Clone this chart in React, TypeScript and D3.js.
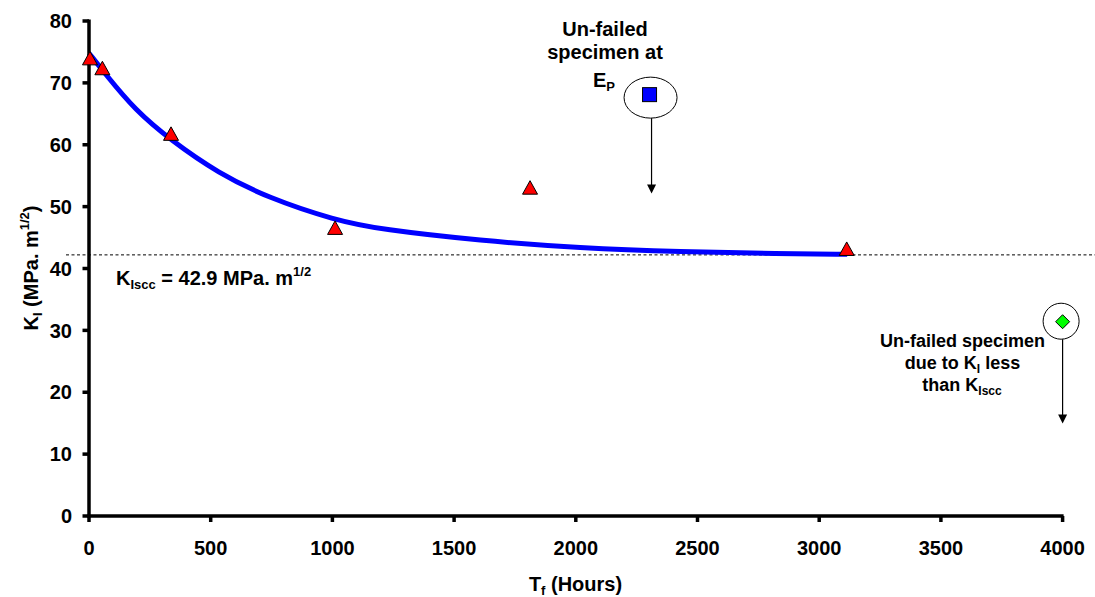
import React from "react";
import * as d3 from "d3";

// ---- data ----
const xTicks = [0, 500, 1000, 1500, 2000, 2500, 3000, 3500, 4000];
const yTicks = [0, 10, 20, 30, 40, 50, 60, 70, 80];

// failed specimens (triangles)
const failedT = [4, 55, 337, 1011, 1812, 3113];
const failedK = [73.8, 72.2, 61.6, 46.4, 52.9, 43.0];

// fitted curve
const fitT = [0, 66, 189, 337, 531, 737, 1011, 1200, 1607, 2018, 2430, 2841, 3115];
const fitK = [74.8, 71.5, 65.6, 60.7, 55.4, 51.4, 47.8, 46.3, 44.5, 43.3, 42.7, 42.4, 42.3];

// un-failed specimens
const unfailedEpT = [2303];
const unfailedEpK = [68.1];
const unfailedLowT = [4000];
const unfailedLowK = [31.4];

// threshold line
const kIsccLine = 42.2;

const FONT = "Arial, 'Liberation Sans', Helvetica, sans-serif";

export default function App() {
  const W = 1095;
  const H = 597;
  const x = d3.scaleLinear().domain([0, 4000]).range([89, 1062.6]);
  const y = d3.scaleLinear().domain([0, 80]).range([516, 21]);

  const fitData = fitT.map((t, i) => [t, fitK[i]] as [number, number]);
  const line = d3
    .line<[number, number]>()
    .x((d) => x(d[0]))
    .y((d) => y(d[1]))
    .curve(d3.curveBasis);

  const epX = x(unfailedEpT[0]);
  const epY = y(unfailedEpK[0]);
  const ellCx = epX + 1;
  const ellCy = epY + 3;
  const ellRx = 26.5;
  const ellRy = 20.5;

  const lowX = x(unfailedLowT[0]);
  const lowY = y(unfailedLowK[0]);
  const circR = 18;

  const arrow = (ax: number, y1: number, y2: number) => (
    <g>
      <line x1={ax} y1={y1} x2={ax} y2={y2 - 8} stroke="#000" strokeWidth={1.2} />
      <polygon points={`${ax - 4.5},${y2 - 9} ${ax + 4.5},${y2 - 9} ${ax},${y2}`} fill="#000" />
    </g>
  );

  return (
    <svg
      width={W}
      height={H}
      style={{ position: "absolute", left: 0, top: 0, background: "#fff" }}
      fontFamily={FONT}
    >
      {/* dashed threshold line */}
      <line
        x1={66}
        x2={W}
        y1={y(kIsccLine)}
        y2={y(kIsccLine)}
        stroke="#000"
        strokeWidth={1}
        strokeDasharray="3,2.5"
      />

      {/* fitted curve */}
      <path d={line(fitData) || ""} fill="none" stroke="#0000ff" strokeWidth={5} />

      {/* axes */}
      <line x1={89} x2={89} y1={y(80) - 1.5} y2={y(0) + 1.5} stroke="#000" strokeWidth={3.5} />
      <line x1={87.5} x2={x(4000) + 1} y1={y(0)} y2={y(0)} stroke="#000" strokeWidth={3.5} />
      {yTicks.map((t) => (
        <g key={"y" + t}>
          <line x1={82.5} x2={89} y1={y(t)} y2={y(t)} stroke="#000" strokeWidth={3.5} />
          <text
            x={72}
            y={y(t)}
            dy="0.36em"
            textAnchor="end"
            fontSize={20}
            fontWeight="bold"
          >
            {t}
          </text>
        </g>
      ))}
      {xTicks.map((t) => (
        <g key={"x" + t}>
          <line x1={x(t)} x2={x(t)} y1={y(0)} y2={y(0) + 6} stroke="#000" strokeWidth={3.5} />
          <text x={x(t)} y={555} textAnchor="middle" fontSize={20} fontWeight="bold">
            {t}
          </text>
        </g>
      ))}

      {/* axis titles */}
      <text x={575.5} y={590.5} textAnchor="middle" fontSize={20} fontWeight="bold">
        T<tspan fontSize={13} dy={4}>f</tspan>
        <tspan dy={-4}> (Hours)</tspan>
      </text>
      <text
        transform="translate(37.5,268) rotate(-90)"
        textAnchor="middle"
        fontSize={20}
        fontWeight="bold"
      >
        K<tspan fontSize={13} dy={4}>I</tspan>
        <tspan dy={-4}> (MPa. m</tspan>
        <tspan fontSize={13} dy={-9}>1/2</tspan>
        <tspan dy={9}>)</tspan>
      </text>

      {/* failed specimens */}
      {failedT.map((t, i) => {
        const cx = x(t);
        const cy = y(failedK[i]);
        return (
          <path
            key={"tri" + i}
            d={`M${cx},${cy - 8} L${cx + 7.5},${cy + 5.5} L${cx - 7.5},${cy + 5.5} Z`}
            fill="#ff0000"
            stroke="#000"
            strokeWidth={1}
          />
        );
      })}

      {/* K_Iscc label */}
      <text x={116} y={285} fontSize={20} fontWeight="bold">
        K<tspan fontSize={13} dy={4}>Iscc</tspan>
        <tspan dy={-4}> = 42.9 MPa. m</tspan>
        <tspan fontSize={13} dy={-9}>1/2</tspan>
      </text>

      {/* un-failed at E_P */}
      <ellipse cx={ellCx} cy={ellCy} rx={ellRx} ry={ellRy} fill="none" stroke="#000" strokeWidth={1} />
      <rect x={epX - 7} y={epY - 7} width={14} height={14} fill="#0000ff" stroke="#000" strokeWidth={1} />
      {arrow(epX + 2, ellCy + ellRy, 193.5)}
      <text x={605} y={36} textAnchor="middle" fontSize={20} fontWeight="bold">
        Un-failed
      </text>
      <text x={605} y={59} textAnchor="middle" fontSize={20} fontWeight="bold">
        specimen at
      </text>
      <text x={604} y={86.5} textAnchor="middle" fontSize={20} fontWeight="bold">
        E<tspan fontSize={13} dy={4}>P</tspan>
      </text>

      {/* un-failed below K_Iscc */}
      <circle cx={lowX - 1.5} cy={lowY - 0.5} r={circR} fill="none" stroke="#000" strokeWidth={1} />
      <path
        d={`M${lowX},${lowY - 7} L${lowX + 7},${lowY} L${lowX},${lowY + 7} L${lowX - 7},${lowY} Z`}
        fill="#00ff00"
        stroke="#000"
        strokeWidth={1}
      />
      {arrow(lowX, lowY - 0.5 + circR, 423.5)}
      <text x={962.5} y={347} textAnchor="middle" fontSize={18} fontWeight="bold">
        Un-failed specimen
      </text>
      <text x={962.5} y={369} textAnchor="middle" fontSize={18} fontWeight="bold">
        due to K<tspan fontSize={12} dy={4}>I</tspan>
        <tspan dy={-4}> less</tspan>
      </text>
      <text x={962} y={391} textAnchor="middle" fontSize={18} fontWeight="bold">
        than K<tspan fontSize={12} dy={4}>Iscc</tspan>
      </text>
    </svg>
  );
}
